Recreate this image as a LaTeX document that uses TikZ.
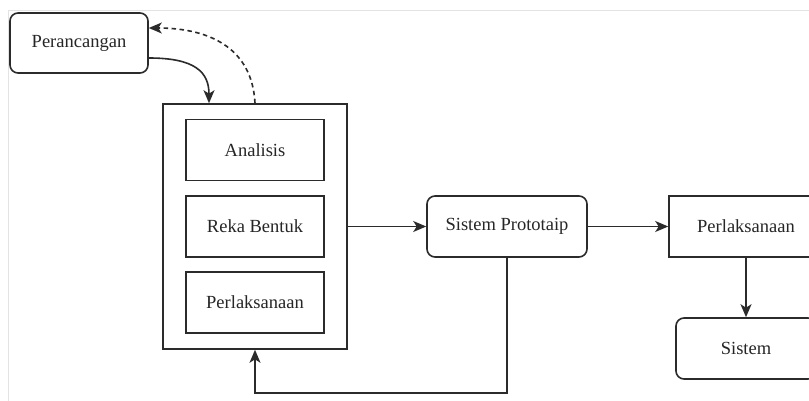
\documentclass[tikz,border=0pt]{standalone}
\usepackage{fontspec}
\setmainfont{Liberation Serif}
\usetikzlibrary{arrows.meta}
\definecolor{lineclr}{HTML}{2B2B2B}
\definecolor{framegray}{HTML}{E3E3E3}
\tikzset{
  box/.style={draw=lineclr, line width=1.6pt, fill=white, inner sep=0pt,
    minimum height=61pt, font=\fontsize{18.5}{22}\selectfont, text=black!85},
  roundbox/.style={box, rounded corners=8pt},
  link/.style={draw=lineclr, line width=1.6pt,
    -{Stealth[length=13pt,width=11pt,inset=3.5pt]}},
  back/.style={link, dashed, dash pattern=on 4.5pt off 3.5pt}
}
\begin{document}
\begin{tikzpicture}[x=1pt,y=-1pt]
  \useasboundingbox (0,0) rectangle (809,401);
  \clip (0,0) rectangle (809,401);
  \fill[white] (0,0) rectangle (809,401);
  % page frame
  \draw[framegray, line width=1pt] (8,401) -- (8,11) -- (809,11);

  % outer development block with its three stages
  \node[box, minimum width=184pt, minimum height=245pt] (cont) at (255,226.5) {};
  \node[box, minimum width=138pt] (analisis) at (255,150) {Analisis};
  \node[box, minimum width=138pt] (reka) at (255,226.5) {Reka Bentuk};
  \node[box, minimum width=138pt] (laksana) at (255,302.5) {Perlaksanaan};

  \node[roundbox, minimum width=138pt, minimum height=60pt] (peran) at (79,43) {Perancangan};
  \node[roundbox, minimum width=160pt] (proto) at (507,226.5) {Sistem Prototaip};
  \node[box, minimum width=154pt] (laksana2) at (746,226.5) {Perlaksanaan};
  \node[roundbox, minimum width=140pt] (sistem) at (746,348.5) {Sistem};

  % connectors
  \draw[link] ([yshift=-15pt]peran.east) .. controls (195,58) and (209,72) .. ([xshift=-46pt]cont.north);
  \draw[back] (cont.north) .. controls (252,45) and (205,28) .. ([yshift=15pt]peran.east);
  \draw[link] (cont.east) -- (proto.west);
  \draw[link] (proto.east) -- (laksana2.west);
  \draw[link] (laksana2.south) -- (sistem.north);
  \coordinate (loop) at (507,393);
  \draw[link] (proto.south) -- (loop) -| (cont.south);
\end{tikzpicture}
\end{document}
